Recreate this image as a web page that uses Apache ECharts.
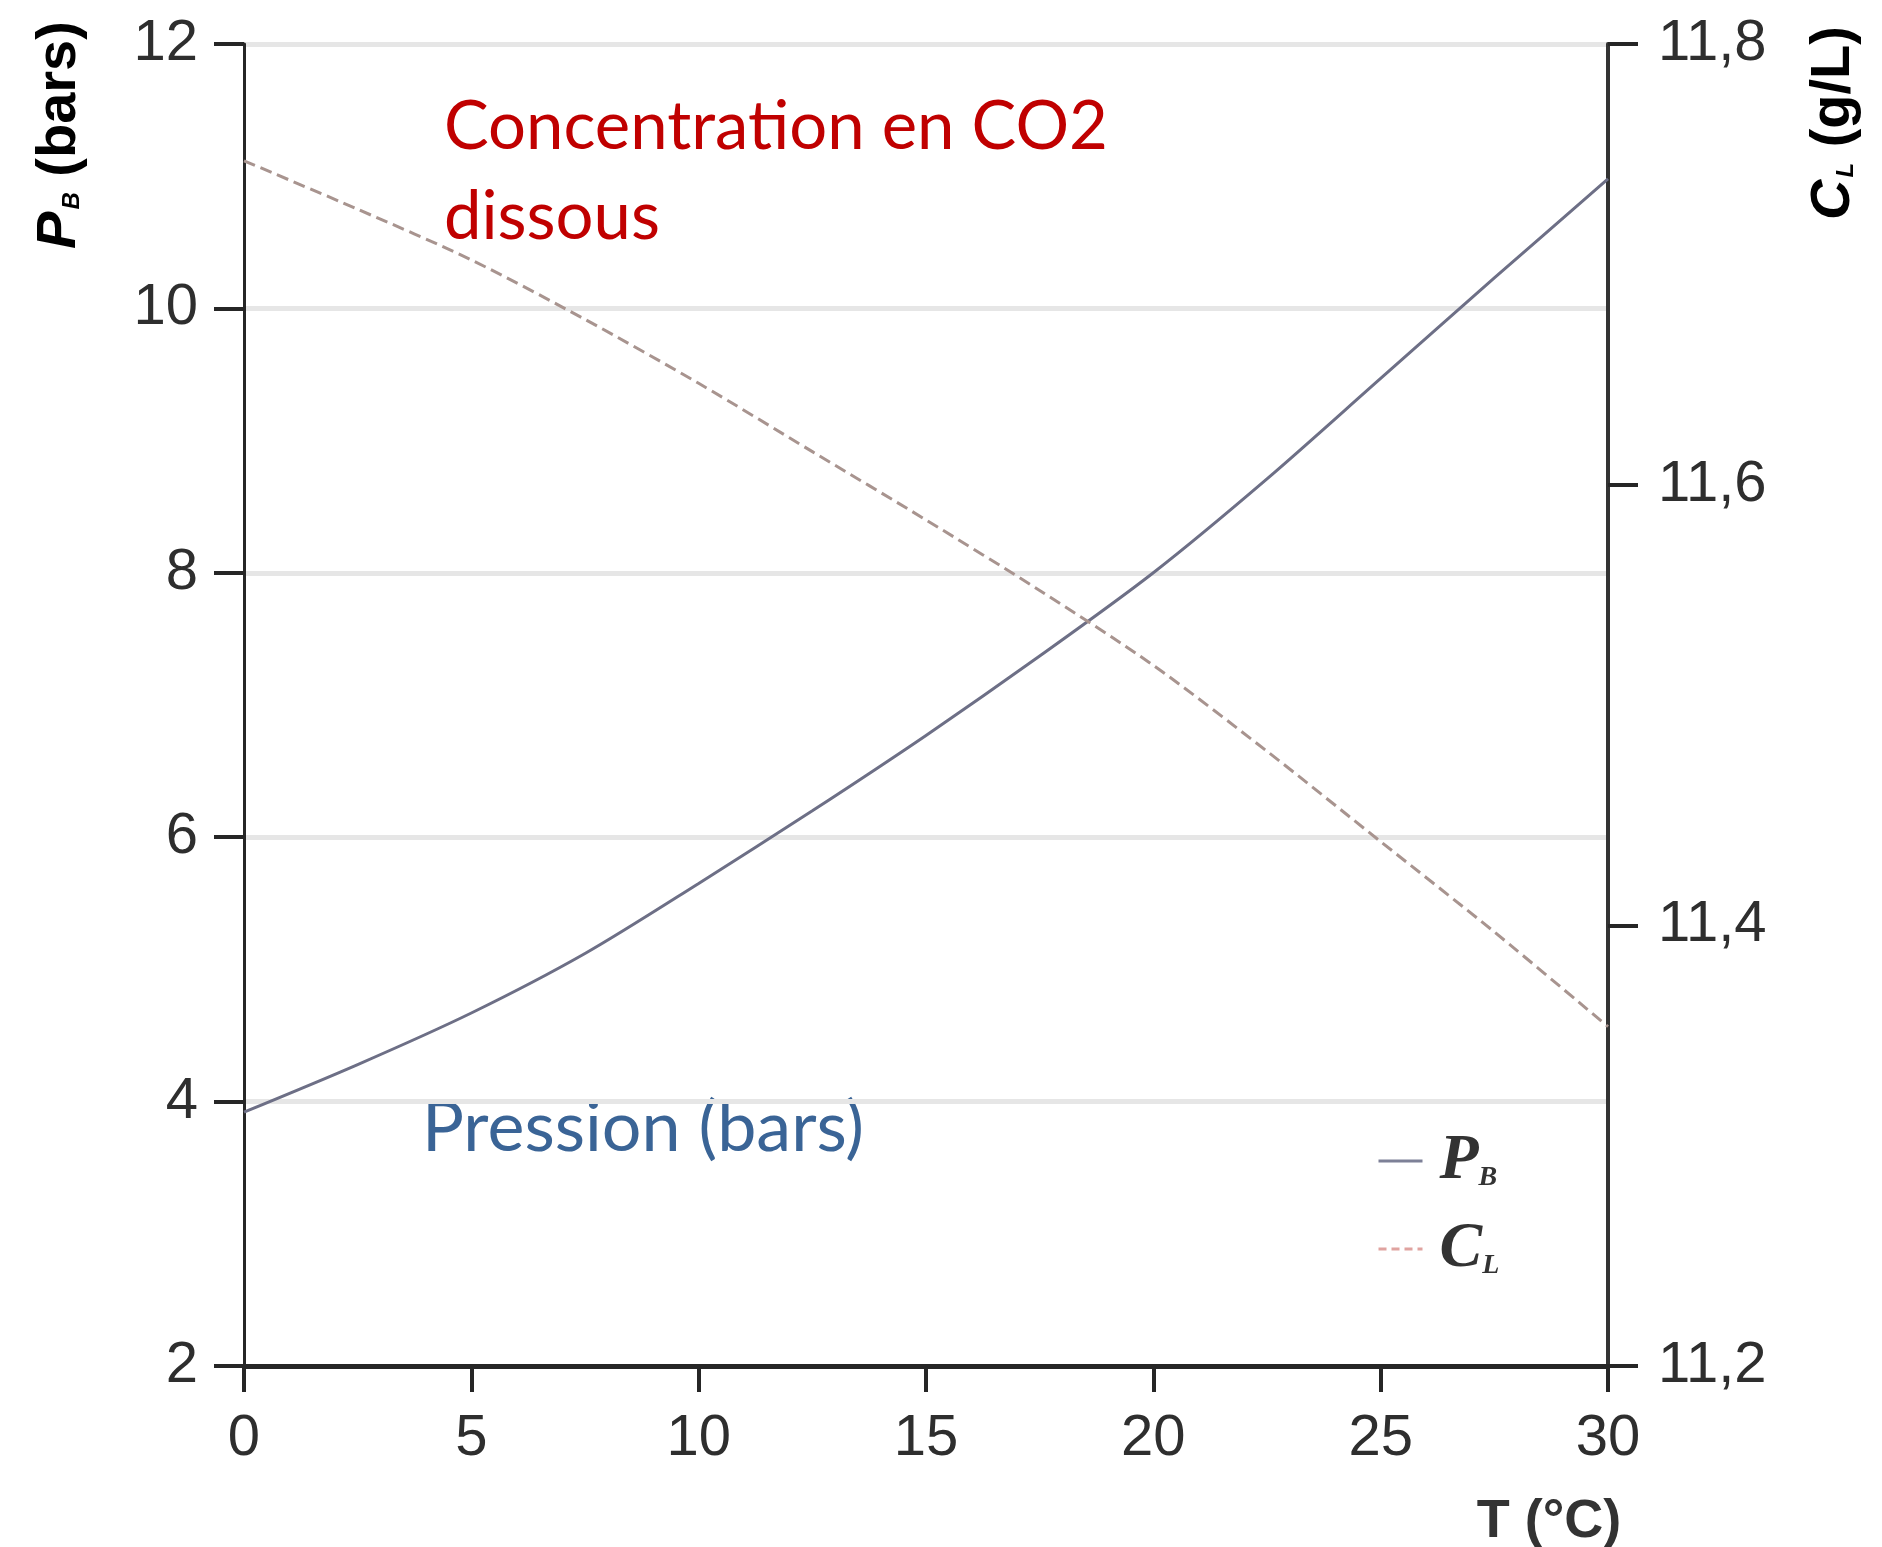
<!DOCTYPE html>
<html>
<head>
<meta charset="utf-8">
<title>Pression et concentration en CO2</title>
<script src="https://cdn.jsdelivr.net/npm/echarts/dist/echarts.min.js"></script>
<style>
    html, body { margin: 0; padding: 0; background: #fff; }
    #chart { width: 1882px; height: 1547px; }
</style>
</head>
<body>
<div id="chart"></div>
<script>
    // values
    const temperatures = [0, 2.5, 5, 7.5, 10, 12.5, 15, 17.5, 20, 22.5, 25, 27.5, 30]
    const pressure = [3.92, 4.28, 4.67, 5.12, 5.65, 6.2, 6.77, 7.37, 8.0, 8.71, 9.47, 10.23, 10.98]
    const concentration = [11.747, 11.725, 11.702, 11.675, 11.646, 11.615, 11.584, 11.552, 11.518, 11.479, 11.438, 11.397, 11.354]

    const xTicks = [0, 5, 10, 15, 20, 25, 30]
    const pressureTicks = [2, 4, 6, 8, 10, 12]
    const concentrationTicks = [11.2, 11.4, 11.6, 11.8]

    const chart = echarts.init(document.getElementById('chart'))

    const tickFont = {
        fontFamily: 'Liberation Sans',
        fontSize: 58,
        color: '#2e2e2e'
    }
    const axisColor = '#262626'
    const legendRich = {
        m: { fontFamily: 'Liberation Serif', fontStyle: 'italic', fontWeight: 'bold', fontSize: 64, color: '#333', lineHeight: 62 },
        s: { fontFamily: 'Liberation Serif', fontStyle: 'italic', fontWeight: 'bold', fontSize: 28, color: '#333', lineHeight: 12, verticalAlign: 'bottom' }
    }
    const nameRich = {
        i: { fontFamily: 'Liberation Sans', fontStyle: 'italic', fontWeight: 'bold', fontSize: 56, color: '#333' },
        s: { fontFamily: 'Liberation Sans', fontStyle: 'italic', fontWeight: 'bold', fontSize: 24, color: '#333', padding: [24, 0, 0, 2] },
        b: { fontFamily: 'Liberation Sans', fontWeight: 'bold', fontSize: 56, color: '#333' }
    }

    const option = {
        backgroundColor: '#fff',
        animation: false,
        grid: {
            left: 244,
            right: 274,
            top: 44,
            bottom: 181
        },
        xAxis: {
            type: 'value',
            min: xTicks[0],
            max: xTicks[xTicks.length - 1],
            interval: xTicks[1] - xTicks[0],
            axisLine: { show: true, onZero: false, lineStyle: { color: axisColor, width: 5 } },
            axisTick: { show: true, length: 26, lineStyle: { color: axisColor, width: 4 } },
            axisLabel: Object.assign({ margin: 44 }, tickFont),
            splitLine: { show: false }
        },
        yAxis: [
            {
                type: 'value',
                position: 'left',
                min: pressureTicks[0],
                max: pressureTicks[pressureTicks.length - 1],
                interval: pressureTicks[1] - pressureTicks[0],
                axisLine: { show: true, onZero: false, lineStyle: { color: axisColor, width: 3 } },
                axisTick: { show: true, length: 30, lineStyle: { color: axisColor, width: 4 } },
                axisLabel: Object.assign({ margin: 46 }, tickFont),
                splitLine: { show: true, lineStyle: { color: '#e6e6e6', width: 5 } }
            },
            {
                type: 'value',
                position: 'right',
                min: concentrationTicks[0],
                max: concentrationTicks[concentrationTicks.length - 1],
                interval: 0.2,
                axisLine: { show: true, onZero: false, lineStyle: { color: '#333', width: 4 } },
                axisTick: { show: true, length: 30, lineStyle: { color: axisColor, width: 4 } },
                axisLabel: Object.assign({
                    margin: 50,
                    formatter: v => v.toFixed(1).replace('.', ',')
                }, tickFont),
                splitLine: { show: false }
            }
        ],
        legend: {
            orient: 'vertical',
            left: 1372,
            top: 1124,
            itemWidth: 44,
            itemHeight: 14,
            itemGap: 24,
            itemStyle: { opacity: 0 },
            data: [
                { name: 'PB', lineStyle: { color: '#7d8097', width: 3 } },
                { name: 'CL', lineStyle: { color: '#e0a3a0', width: 3, type: [8, 5] } }
            ],
            formatter: name => name === 'PB' ? '{m|P}{s|B}' : '{m|C}{s|L}',
            textStyle: { rich: legendRich, padding: [0, 0, 0, 12] }
        },
        series: [
            {
                name: 'PB',
                type: 'line',
                yAxisIndex: 0,
                smooth: 0.3,
                showSymbol: false,
                symbol: 'none',
                lineStyle: { color: '#6d6f86', width: 3 },
                itemStyle: { color: '#6d6f86' },
                data: temperatures.map((t, i) => [t, pressure[i]])
            },
            {
                name: 'CL',
                type: 'line',
                yAxisIndex: 1,
                smooth: 0.3,
                showSymbol: false,
                symbol: 'none',
                lineStyle: { color: '#a8948f', width: 3, type: [12, 6] },
                itemStyle: { color: '#d9a3a0' },
                data: temperatures.map((t, i) => [t, concentration[i]])
            }
        ],
        graphic: [
            {
                type: 'text',
                x: 60,
                y: 135,
                rotation: Math.PI / 2,
                style: {
                    text: '{i|P}{s|B}{b| (bars)}',
                    rich: nameRich,
                    align: 'center',
                    verticalAlign: 'middle'
                }
            },
            {
                type: 'text',
                x: 1834,
                y: 123,
                rotation: Math.PI / 2,
                style: {
                    text: '{i|C}{s|L}{b| (g/L)}',
                    rich: nameRich,
                    align: 'center',
                    verticalAlign: 'middle'
                }
            },
            {
                type: 'text',
                x: 1549,
                y: 1522,
                style: {
                    text: 'T (°C)',
                    fontFamily: 'Liberation Sans',
                    fontWeight: 'bold',
                    fontSize: 54,
                    fill: '#333',
                    align: 'center',
                    verticalAlign: 'middle'
                }
            },
            {
                type: 'text',
                x: 444,
                y: 127,
                style: {
                    text: 'Concentration en CO2',
                    fontFamily: 'Lato',
                    fontSize: 67,
                    fill: '#c00000',
                    align: 'left',
                    verticalAlign: 'middle'
                }
            },
            {
                type: 'text',
                x: 444,
                y: 217,
                style: {
                    text: 'dissous',
                    fontFamily: 'Lato',
                    fontSize: 67,
                    fill: '#c00000',
                    align: 'left',
                    verticalAlign: 'middle'
                }
            },
            {
                type: 'text',
                x: 422,
                y: 1128,
                style: {
                    text: 'Pression (bars)',
                    fontFamily: 'Lato',
                    fontSize: 70,
                    fill: '#3a6496',
                    align: 'left',
                    verticalAlign: 'middle'
                }
            }
        ]
    }

    chart.setOption(option)
</script>
</body>
</html>
